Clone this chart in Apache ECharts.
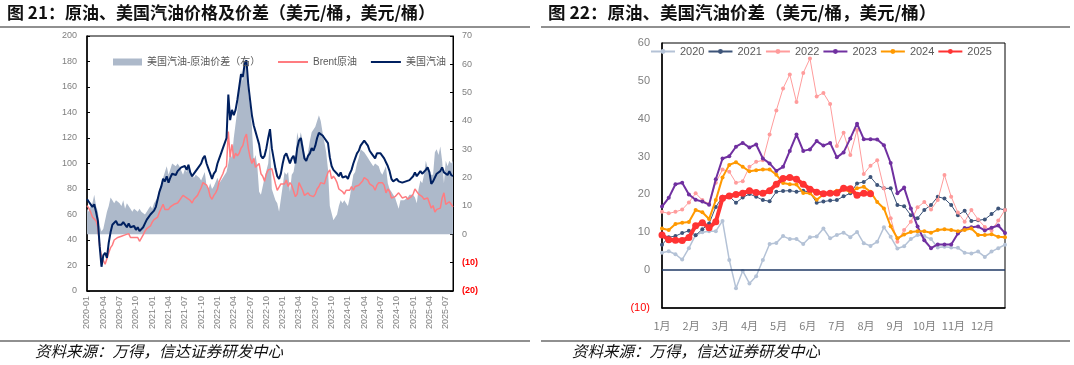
<!DOCTYPE html>
<html><head><meta charset="utf-8">
<script src="https://cdn.jsdelivr.net/npm/echarts@6/dist/echarts.min.js"></script>
<style>html,body{margin:0;padding:0;background:#fff}#c{width:1074px;height:365px}</style>
</head><body><div id="c"></div>
<script>
// ---------- Chart 21 data (3 observations per month, 2020-01 .. 2025-08) ----------
const gasoline = [
 72,70,68, 66,68,62, 55,35,19, 28,30,26, 38,46,52, 53,55,52, 53,52,54, 52,50,53, 50,49,51, 48,50,47, 48,50,53, 56,58,60,
 60,63,66, 72,78,82, 88,86,90, 85,89,92, 93,91,94, 95,97,96, 98,95,99, 93,90,92, 94,96,98, 100,104,106, 100,96,92, 88,92,94,
 100,104,108, 112,116,120, 154,134,142, 138,142,150, 160,170,168, 178,181,162, 150,138,130, 125,120,115, 106,104,106, 112,120,127, 112,104,96, 90,88,92,
 100,106,108, 104,100,104, 106,100,112, 118,120,112, 104,102,106, 108,112,110, 114,120,124, 125,122,120, 118,116,105, 98,95,94, 92,90,93, 89,88,90,
 88,92,95, 100,104,108, 110,114,116, 118,119,114, 110,108,106, 104,108,109, 108,106,104, 101,98,94, 88,86,87, 88,86,87, 85,84,86, 85,87,88,
 90,93,90, 92,94,92, 91,95,97, 93,84,86, 89,92,91, 94,97,93, 92,91,94, 91,90
];
const brent = [
 67,65,62, 58,57,55, 50,35,27, 24,21,20, 30,34,36, 40,41,42, 43,43,44, 44,45,45, 42,41,42, 41,42,39, 40,44,47, 49,50,51,
 54,56,55, 58,62,65, 68,64,63, 64,66,67, 68,67,69, 71,73,75, 75,73,74, 71,69,72, 73,75,78, 81,85,84, 83,80,74, 72,75,77,
 80,86,89, 92,96,98, 125,105,115, 104,108,106, 108,112,114, 120,123,112, 105,100,104, 97,96,100, 92,90,86, 92,95,94, 96,90,84, 79,80,84,
 83,84,87, 82,85,83, 84,74,76, 85,84,79, 75,76,77, 75,76,74, 76,80,82, 85,86,84, 89,93,95, 88,90,88, 85,80,81, 78,76,79,
 78,79,82, 79,82,83, 83,84,86, 89,90,87, 84,83,82, 79,83,85, 86,85,83, 77,80,78, 73,72,74, 75,77,75, 73,72,74, 72,73,74,
 76,80,79, 76,75,74, 72,71,73, 74,65,67, 62,64,65, 65,73,77, 68,69,70, 68,66
];
const spread = [
 9,8,10, 11,14,10, 8,3,1, 2,5,8, 10,13,12, 11,12,12, 11,10,12, 9,11,10, 9,8,9, 9,8,9, 8,8,7, 8,9,10,
 9,11,12, 13,16,18, 20,22,24, 21,23,25, 25,24,25, 24,24,21, 23,22,25, 22,21,20, 21,21,20, 19,19,22, 17,16,18, 16,17,17,
 20,18,19, 20,20,22, 25,29,27, 34,34,44, 52,58,54, 62,58,50, 45,38,26, 28,24,15, 14,14,20, 20,25,33, 16,14,12, 11,8,8,
 17,22,21, 22,15,21, 22,26,36, 33,36,33, 29,26,29, 33,36,36, 38,40,42, 40,36,36, 29,23,10, 10,5,6, 7,10,12, 11,12,11,
 10,13,13, 21,22,25, 27,30,30, 29,29,27, 26,25,24, 25,25,24, 22,21,21, 24,18,16, 15,14,13, 13,9,12, 12,12,12, 13,14,14,
 14,13,11, 16,19,18, 21,26,26, 21,21,21, 29,30,28, 31,26,18, 26,24,26, 25,26
];
const obsDays = [1, 11, 21];
const labelMonths = ['01', '04', '07', '10'];

// ---------- Chart 22 data (weekly, week 0..51) ----------
const y2020 = [4.6,5.0,4.2,2.8,5.8,9.3,10.0,10.3,10.3,13.0, 2.7,-4.8,-0.2,-3.5,-1.6,2.7,6.9,7.2,9.0,8.2,
 8.2,6.9,8.7,8.9,11.0,8.4,9.3,9.9,8.7,10.1, 7.1,6.4,7.5,11.3,8.8,5.7,6.3,8.2,9.3,9.0, 8.2,6.0,6.2,6.0,5.9,4.6,4.4,4.9,3.5,4.9, 5.8,6.7];
const y2021 = [6.7,8.7,9.0,9.8,10.4,9.2,10.8,12.3,16.7,19.4, 19.5,17.8,19.2,20.1,19.4,18.5,18.2,20.7,20.9,21.0,
 20.7,21.0,20.5,17.8,18.1,18.4,18.5,19.5,20.3,22.9, 23.3,24.6,22.5,21.6,21.6,17.2,16.9,14.5,13.7,15.9, 17.2,19.4,18.9,17.2,14.5,15.7,13.0,13.2,13.4,14.8, 16.3,15.9];
const y2022 = [15.4,15.0,15.4,16.0,17.9,20.3,18.5,17.5,23.1,26.6, 26.0,23.1,23.5,27.3,28.6,29.0,35.8,42.2,48.0,51.7,
 44.4,52.1,55.9,45.9,46.8,43.9,32.8,36.3,30.4,37.0, 25.4,27.6,29.0,21.6,13.7,7.5,10.6,12.8,16.6,18.0, 16.0,18.5,25.1,19.4,15.2,12.8,15.9,13.4,11.4,10.5, 13.1,15.9];
const y2023 = [16.8,19.1,22.7,23.1,20.0,18.6,18.1,17.3,24.0,29.5, 30.1,32.6,33.6,32.4,33.2,29.5,28.2,26.2,27.3,31.5,
 35.8,31.5,31.9,34.1,32.9,33.6,29.8,31.1,34.8,38.7, 34.6,34.6,34.5,33.0,28.3,20.3,21.8,16.3,11.5,7.9, 5.8,6.8,6.8,6.8,9.7,11.1,11.3,11.5,10.5,11.2, 11.8,9.8];
const y2024 = [11.0,10.6,12.2,12.5,12.7,15.9,15.3,13.5,18.5,24.5, 27.8,28.5,27.3,26.1,26.4,26.6,26.6,25.2,23.0,22.7,
 22.6,20.4,20.3,18.6,20.0,20.5,21.0,21.3,20.7,21.6, 22.0,20.7,18.0,16.3,11.6,8.4,9.4,10.1,10.3,10.3, 9.9,10.6,10.8,10.6,10.3,10.6,11.0,9.3,9.3,9.5, 8.8,8.7];
const y2025 = [9.3,8.0,7.9,7.8,8.6,11.7,12.5,11.2,12.8,19.0, 19.6,20.0,20.3,21.0,20.5,20.3,21.0,22.7,24.2,24.5,
 24.0,22.7,21.4,20.6,20.2,20.3,20.4,21.6,21.5,19.8, 20.3,20.2];
const monthNames = ['1月','2月','3月','4月','5月','6月','7月','8月','9月','10月','11月','12月'];
const yearNames = ['2020','2021','2022','2023','2024','2025'];

// ---------- build ----------
const pad = n => String(n).padStart(2, '0');
const dates = [];
for (let y = 2020; y <= 2025; y++) for (let m = 1; m <= 12; m++) for (const d of obsDays)
  if (dates.length < gasoline.length) dates.push(y + '-' + pad(m) + '-' + pad(d));
const isQuarterStart = (i, v) => v.slice(8) === '01' && labelMonths.includes(v.slice(5, 7));

const FONT = '"Liberation Sans", "Noto Sans CJK SC", sans-serif';
const CJK = '"Noto Sans CJK SC", sans-serif';
const negColor = v => (v < 0 ? '#ff0000' : '#7f7f7f');
const negFmt = v => (v < 0 ? '(' + (-v) + ')' : String(v));
const negFmtRich = v => (v < 0 ? '{n|(' + (-v) + ')}' : '{p|' + v + '}');
const weekStep = 52 / 12;

const yearStyles = [
  {color: '#b4c2d6', width: 1.5, size: 4},
  {color: '#3d5479', width: 1, size: 4},
  {color: '#ff9c9c', width: 1, size: 4},
  {color: '#7030a0', width: 2, size: 4},
  {color: '#ff9900', width: 2, size: 4},
  {color: '#ff3333', width: 4, size: 7}
];
const yearData = [y2020, y2021, y2022, y2023, y2024, y2025];

const yearSeries = yearData.map((arr, k) => {
  const s = yearStyles[k];
  const ser = {
    name: yearNames[k], type: 'line', xAxisIndex: 1, yAxisIndex: 2,
    data: arr.map((v, i) => [i, v]),
    symbol: 'circle', symbolSize: s.size, showSymbol: true,
    lineStyle: {color: s.color, width: s.width},
    itemStyle: {color: s.color},
    z: 3 + k
  };
  if (k === 0) {
    ser.markLine = {
      silent: true, symbol: ['none', 'none'], label: {show: false},
      lineStyle: {color: '#1f3864', width: 1.5, type: 'solid'},
      data: [{yAxis: 0}]
    };
  }
  return ser;
});

const option = {
  animation: false,
  textStyle: {fontFamily: FONT},
  grid: [
    {left: 87, top: 36, width: 366, height: 255, show: true, borderColor: '#000', borderWidth: 1},
    {left: 662, top: 43, width: 343, height: 265, show: true, borderColor: '#000', borderWidth: 1}
  ],
  legend: [
    {
      left: 108, top: 52, itemWidth: 29, itemHeight: 7, itemGap: 14,
      textStyle: {fontSize: 10, color: '#595959', fontFamily: FONT},
      data: [{name: '美国汽油-原油价差（右）', icon: 'rect'}]
    },
    {
      left: 273, top: 52, itemWidth: 30, itemHeight: 2, itemGap: 14, icon: 'rect',
      textStyle: {fontSize: 10, color: '#595959', fontFamily: FONT},
      data: ['Brent原油', '美国汽油']
    },
    {
      left: 645, top: 41, itemWidth: 24, itemHeight: 6, itemGap: 3,
      textStyle: {fontSize: 11, color: '#595959', fontFamily: FONT},
      data: yearNames
    }
  ],
  xAxis: [
    {
      type: 'category', gridIndex: 0, data: dates, boundaryGap: false,
      axisLine: {lineStyle: {color: '#000', width: 1.5}},
      axisTick: {show: false},
      axisLabel: {interval: isQuarterStart, rotate: 90, fontSize: 9, color: '#7f7f7f', margin: 5,
        formatter: v => v.slice(0, 7)},
      splitLine: {show: false}
    },
    {
      type: 'value', gridIndex: 1, min: 0, max: 51, interval: weekStep,
      axisLine: {onZero: false, lineStyle: {color: '#000', width: 1.5}},
      axisTick: {show: false}, splitLine: {show: false},
      axisLabel: {fontSize: 11, color: '#7f7f7f', margin: 12, fontFamily: CJK,
        formatter: v => {
          const idx = Math.round(v / weekStep);
          if (Math.abs(v - idx * weekStep) > 0.05 || idx > 11) return '';
          return monthNames[idx];
        }}
    }
  ],
  yAxis: [
    {
      type: 'value', gridIndex: 0, min: 0, max: 200, interval: 20, position: 'left',
      axisLine: {show: true, lineStyle: {color: '#000', width: 1.5}},
      axisTick: {show: true, inside: true, length: 3, lineStyle: {color: '#000'}},
      splitLine: {show: false},
      axisLabel: {fontSize: 9, color: '#7f7f7f', margin: 10}
    },
    {
      type: 'value', gridIndex: 0, min: -20, max: 70, interval: 10, position: 'right',
      axisLine: {show: true, lineStyle: {color: '#000', width: 1}},
      axisTick: {show: true, inside: true, length: 3, lineStyle: {color: '#000'}},
      splitLine: {show: false},
      axisLabel: {fontSize: 9, formatter: negFmtRich, margin: 9,
        rich: {n: {color: '#ff0000', fontWeight: 'bold', fontSize: 9}, p: {color: '#7f7f7f', fontSize: 9}}}
    },
    {
      type: 'value', gridIndex: 1, min: -10, max: 60, interval: 10,
      axisLine: {show: true, lineStyle: {color: '#000', width: 1.5}},
      axisTick: {show: false}, splitLine: {show: false},
      axisLabel: {fontSize: 11, color: negColor, formatter: negFmt, margin: 12}
    }
  ],
  series: [
    {
      name: '美国汽油-原油价差（右）', type: 'line', xAxisIndex: 0, yAxisIndex: 1,
      data: spread, symbol: 'none', showSymbol: false,
      lineStyle: {width: 0, color: '#adb9ca'}, itemStyle: {color: '#adb9ca'},
      areaStyle: {color: '#adb9ca', opacity: 1}, z: 1
    },
    {
      name: 'Brent原油', type: 'line', xAxisIndex: 0, yAxisIndex: 0,
      data: brent, symbol: 'none', showSymbol: false,
      lineStyle: {width: 1.5, color: '#ff7c80'}, itemStyle: {color: '#ff7c80'}, z: 2
    },
    {
      name: '美国汽油', type: 'line', xAxisIndex: 0, yAxisIndex: 0,
      data: gasoline, symbol: 'none', showSymbol: false,
      lineStyle: {width: 2, color: '#002060'}, itemStyle: {color: '#002060'}, z: 3
    }
  ].concat(yearSeries),
  graphic: [
    {type: 'text', left: 7, top: 4, style: {text: '图 21：原油、美国汽油价格及价差（美元/桶，美元/桶）', font: 'bold 17px "Noto Sans CJK SC"', fill: '#111'}},
    {type: 'text', left: 548, top: 4, style: {text: '图 22：原油、美国汽油价差（美元/桶，美元/桶）', font: 'bold 17.5px "Noto Sans CJK SC"', fill: '#111'}},
    {type: 'line', shape: {x1: 0, y1: 27, x2: 530, y2: 27}, style: {stroke: '#222', lineWidth: 1.2}},
    {type: 'line', shape: {x1: 541, y1: 27, x2: 1070, y2: 27}, style: {stroke: '#222', lineWidth: 1.2}},
    {type: 'line', shape: {x1: 0, y1: 341, x2: 530, y2: 341}, style: {stroke: '#222', lineWidth: 1.2}},
    {type: 'line', shape: {x1: 541, y1: 341, x2: 1070, y2: 341}, style: {stroke: '#222', lineWidth: 1.2}},
    {type: 'text', left: 35, top: 343, style: {text: '资料来源：万得，信达证券研发中心', font: 'italic 15.5px "Noto Sans CJK SC"', fill: '#111'}},
    {type: 'text', left: 572, top: 343, style: {text: '资料来源：万得，信达证券研发中心', font: 'italic 15.5px "Noto Sans CJK SC"', fill: '#111'}}
  ]
};
echarts.init(document.getElementById('c')).setOption(option);
</script>
</body></html>
